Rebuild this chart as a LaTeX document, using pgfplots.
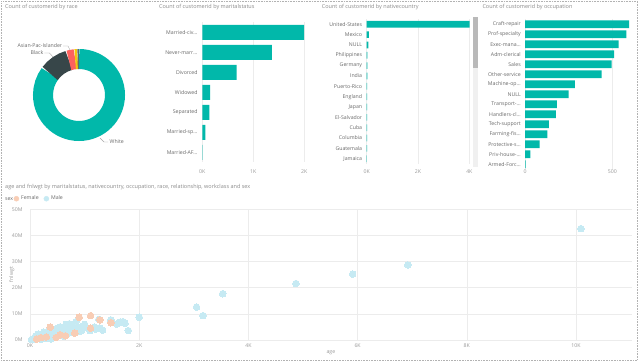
\documentclass[border=0pt]{standalone}
\usepackage{fontspec}
\setmainfont{Open Sans}
\usepackage{pgfplots}
\usepackage{pgfplotstable}
\pgfplotsset{compat=1.18}
\definecolor{pbteal}{HTML}{01B8AA}
\definecolor{pbdark}{HTML}{374649}
\definecolor{pbred}{HTML}{FD625E}
\definecolor{pbyellow}{HTML}{F2C80F}
\definecolor{pbgrey}{HTML}{5F6B6D}
\definecolor{gridc}{HTML}{ECECEC}
\definecolor{titlec}{HTML}{8C8C8C}
\definecolor{labc}{HTML}{6A6A6A}
\definecolor{tickc}{HTML}{9A9A9A}
\definecolor{malec}{HTML}{C6EAF3}
\definecolor{femalec}{HTML}{F8CDB5}
\newcommand{\ttl}{\fontsize{5.5}{6.5}\selectfont}
\newcommand{\tks}{\fontsize{5.2}{6}\selectfont}
\DeclareRobustCommand{\el}{.\kern0pt.\kern0pt.}

\pgfplotsset{
  pbbar/.style={xbar, scale only axis, y dir=reverse, axis line style={draw=none},
    major tick length=0pt, xmajorgrids, major grid style={gridc, line width=0.6pt},
    enlargelimits=false, xmin=0, clip=false, scaled ticks=false,
    ticklabel style={font=\tks},
    yticklabel style={labc, anchor=east, inner sep=0pt},
    xticklabel style={tickc, anchor=center, inner sep=0pt}},
}

% count of customerid by maritalstatus
\pgfplotstableread{
idx value
1 1995
2 1364
3 675
4 151
5 138
6 59
7 8
}\marital
% by nativecountry
\pgfplotstableread{
idx value
1 4010
2 80
3 70
4 30
5 26
6 22
7 20
8 18
9 16
10 15
11 14
12 13
13 12
14 11
}\country
% by occupation
\pgfplotstableread{
idx value
1 597
2 580
3 536
4 510
5 496
6 439
7 286
8 250
9 183
10 177
11 137
12 128
13 84
14 31
15 4
}\occup

\begin{document}
\begin{tikzpicture}
\useasboundingbox (0,0) rectangle (640pt,362pt);
\fill[white] (0,0) rectangle (640pt,362pt);
\draw[gray!60, densely dotted, line width=0.6pt] (1pt,1.5pt) rectangle (637pt,361pt);

% ---------- titles ----------
\node[anchor=west, inner sep=0pt, text=titlec, font=\ttl] at (5pt,355.3pt) {Count of customerid by race};
\node[anchor=west, inner sep=0pt, text=titlec, font=\ttl] at (159pt,355.3pt) {Count of customerid by maritalstatus};
\node[anchor=west, inner sep=0pt, text=titlec, font=\ttl] at (321.7pt,355.3pt) {Count of customerid by nativecountry};
\node[anchor=west, inner sep=0pt, text=titlec, font=\ttl] at (482.3pt,355.3pt) {Count of customerid by occupation};
\node[anchor=west, inner sep=0pt, text=titlec, font=\ttl] at (5pt,175.3pt) {age and fnlwgt by maritalstatus, nativecountry, occupation, race, relationship, workclass and sex};

% ---------- donut: race (White 3800, Black 460, Asian-Pac-Islander 125, Amer-Indian-Eskimo 48, Other 27) ----------
\begin{axis}[hide axis, scale only axis, width=92pt, height=92pt, xmin=-1, xmax=1, ymin=-1, ymax=1,
  at={(33pt,313pt)}, anchor=north west, clip=false]
  \draw[pbteal,  line width=20pt] (axis cs:0,0) ++(90:36pt)     arc[start angle=90,     end angle=-216.7, radius=36pt];
  \draw[pbdark,  line width=20pt] (axis cs:0,0) ++(-216.7:36pt) arc[start angle=-216.7, end angle=-253.8, radius=36pt];
  \draw[pbred,   line width=20pt] (axis cs:0,0) ++(-253.8:36pt) arc[start angle=-253.8, end angle=-263.9, radius=36pt];
  \draw[pbyellow,line width=20pt] (axis cs:0,0) ++(-263.9:36pt) arc[start angle=-263.9, end angle=-267.8, radius=36pt];
  \draw[pbgrey,  line width=20pt] (axis cs:0,0) ++(-267.8:36pt) arc[start angle=-267.8, end angle=-270,   radius=36pt];
\end{axis}
\draw[gray!70, line width=0.4pt] (63pt,316pt) -- (68pt,316pt) -- (70pt,312pt);
\node[anchor=east, inner sep=0pt, text=labc, font=\tks] at (62.3pt,316pt) {Asian-Pac-Islander};
\draw[gray!70, line width=0.4pt] (44.3pt,309pt) -- (49.5pt,309pt) -- (53pt,305pt);
\node[anchor=east, inner sep=0pt, text=labc, font=\tks] at (43.5pt,309pt) {Black};
\draw[gray!70, line width=0.4pt] (100pt,224pt) -- (104pt,220pt) -- (108pt,220pt);
\node[anchor=west, inner sep=0pt, text=labc, font=\tks] at (109.5pt,220pt) {White};

% ---------- marital status ----------
\begin{axis}[pbbar, at={(202.3pt,339.7pt)}, anchor=north west, width=104.55pt, height=140pt,
  xmax=2050, ymin=0.5, ymax=7.5, ytick={1,2,3,4,5,6,7},
  yticklabels={Married-civ\el,Never-marr\el,Divorced,Widowed,Separated,Married-sp\el,Married-AF\el},
  yticklabel style={xshift=-4.6pt},
  xtick={0,1000,2000}, xticklabels={0K,1K,2K}, xticklabel style={yshift=-9.7pt}]
  \addplot[fill=pbteal, draw=none, bar width=15pt] table[x=value, y=idx]{\marital};
\end{axis}

% ---------- native country ----------
\begin{axis}[pbbar, at={(366.7pt,342.9pt)}, anchor=north west, width=105.2pt, height=144.8pt,
  xmax=4100, ymin=0.5, ymax=14.5, ytick={1,2,3,4,5,6,7,8,9,10,11,12,13,14},
  yticklabels={United-States,Mexico,NULL,Philippines,Germany,India,Puerto-Rico,England,Japan,El-Salvador,Cuba,Columbia,Guatemala,Jamaica},
  yticklabel style={xshift=-4.4pt},
  xtick={0,2000,4000}, xticklabels={0K,2K,4K}, xticklabel style={yshift=-8.1pt}]
  \addplot[fill=pbteal, draw=none, bar width=6.7pt] table[x=value, y=idx]{\country};
\end{axis}
\fill[gray!12] (473pt,195pt) rectangle (476.5pt,345pt);
\fill[gray!55] (473pt,294pt) rectangle (476.5pt,345pt);

% ---------- occupation ----------
\begin{axis}[pbbar, at={(525pt,342.7pt)}, anchor=north west, width=108.25pt, height=150pt,
  xmax=620, ymin=0.5, ymax=15.5, ytick={1,2,3,4,5,6,7,8,9,10,11,12,13,14,15},
  yticklabels={Craft-repair,Prof-specialty,Exec-mana\el,Adm-clerical,Sales,Other-service,Machine-op\el,NULL,Transport-\el,Handlers-cl\el,Tech-support,Farming-fis\el,Protective-s\el,Priv-house-\el,Armed-Forc\el},
  yticklabel style={xshift=-4pt},
  xtick={0,500}, xticklabels={0,500}, xticklabel style={yshift=-2.7pt}]
  \addplot[fill=pbteal, draw=none, bar width=7.7pt] table[x=value, y=idx]{\occup};
\end{axis}
\fill[gray!12] (475pt,195pt) rectangle (478pt,345pt);
\fill[gray!55] (475pt,294pt) rectangle (478pt,345pt);

% ---------- scatter ----------
\node[anchor=west, inner sep=0pt, text=labc, font=\tks] at (5pt,163.3pt) {sex};
\begin{axis}[scale only axis, at={(30pt,152.7pt)}, anchor=north west, width=601.7pt, height=130.7pt,
  xmin=0, xmax=11020, ymin=0, ymax=50, enlargelimits=false, scaled ticks=false,
  axis line style={draw=none}, major tick length=0pt, grid=major, major grid style={gridc, line width=0.6pt},
  xtick={0,2000,4000,6000,8000,10000}, xticklabels={0K,2K,4K,6K,8K,10K},
  ytick={0,10,20,30,40,50}, yticklabels={0M,10M,20M,30M,40M,50M},
  ticklabel style={font=\tks, text=tickc, inner sep=0pt},
  xticklabel style={anchor=center, yshift=-5.7pt},
  yticklabel style={anchor=east, xshift=-7.3pt},
  xlabel={age}, ylabel={fnlwgt},
  label style={font=\tks, text=tickc, inner sep=0pt},
  xlabel style={at={(axis description cs:0.5,-0.0995)}, anchor=center},
  ylabel style={at={(axis description cs:-0.0304,0.5)}, anchor=center},
  reverse legend, legend columns=2,
  legend style={at={(axis description cs:-0.0274,1.081)}, anchor=west, draw=none, fill=none,
    font=\tks, text=labc, inner sep=0pt, /tikz/every even column/.append style={column sep=3pt}},
  clip=false]
  \addplot[only marks, color=malec, mark=*, mark size=3.3pt, mark options={solid, draw=malec, fill=malec, line width=0pt},
    legend image code/.code={\fill[malec] (2.4pt,0) circle (2.5pt);}] coordinates {
    (10090,42.6) (6920,28.7) (5910,25.2) (4870,21.6) (3530,17.7) (3050,12.6) (3170,9.3)
    (2000,8.7) (1800,3.6) (1740,6.4) (1650,6.8) (1590,6.1) (1700,7.0) (1480,7.7) (1260,7.9)
    (1280,4.5) (1180,4.9) (1330,3.8) (840,7.0) (970,5.4) (1050,4.6) (1000,6.0) (900,4.8)
    (940,3.5) (860,4.2) (1100,3.6) (1200,4.1)
    (30,0.2) (60,0.5) (90,0.3) (110,0.9) (140,0.6) (160,1.2) (190,0.8) (210,1.5) (240,1.1)
    (260,2.0) (290,1.4) (310,2.4) (340,1.9) (370,2.8) (400,2.2) (420,3.2) (450,2.5) (480,3.0)
    (510,2.7) (530,3.6) (560,3.1) (590,4.0) (610,3.4) (640,4.6) (660,6.0) (690,3.8) (710,5.2)
    (740,4.2) (770,3.4) (800,4.5) (820,2.9) (250,3.0) (350,3.5) (150,2.2) (200,0.3) (300,0.6)
    (400,1.0) (500,1.6) (600,2.2) (700,2.6) (780,3.0) (550,5.0) (450,4.0) (100,1.5) (620,1.5)
    (380,0.4) (680,5.5) (720,6.2) (580,4.8) (480,4.3) (880,3.2) (760,5.0) (650,3.0) (520,2.0)
  };
  \addlegendentry{Male}
  \addplot[only marks, color=femalec, mark=*, mark size=3.3pt, mark options={solid, draw=femalec, fill=femalec, line width=0pt},
    legend image code/.code={\fill[femalec] (2.4pt,0) circle (2.5pt);}] coordinates {
    (370,4.9) (900,8.7) (1110,9.3) (1280,7.7) (1110,4.5) (1480,6.6) (550,2.0) (120,0.4)
    (300,1.2) (480,1.0) (650,1.6) (820,2.6) (200,0.9)
  };
  \addlegendentry{Female}
\end{axis}
\end{tikzpicture}
\end{document}
